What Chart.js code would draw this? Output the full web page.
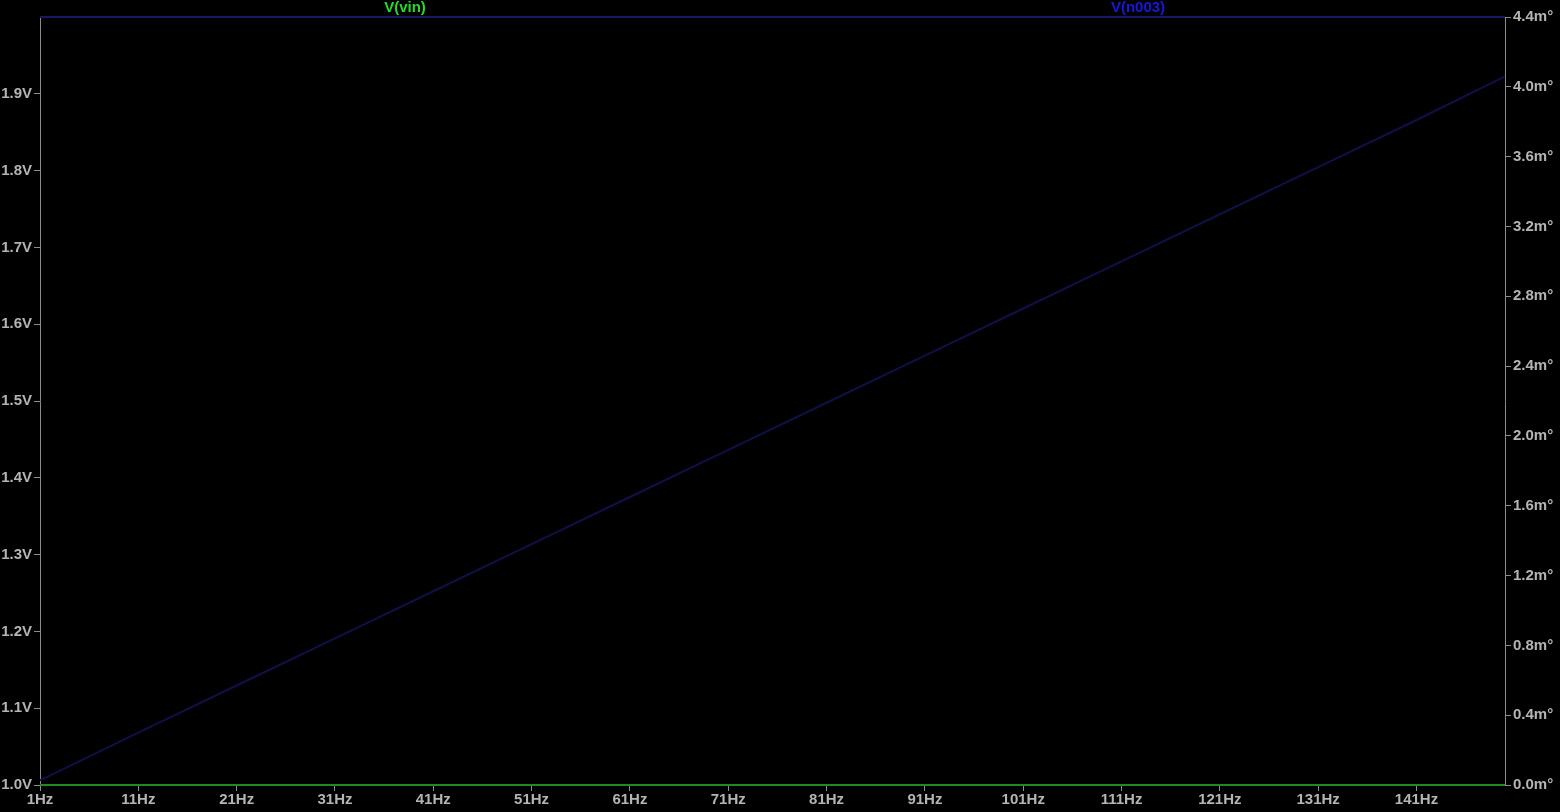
<!DOCTYPE html>
<html>
<head>
<meta charset="utf-8">
<script src="https://cdn.jsdelivr.net/npm/chart.js@4"></script>
<style>
  html, body { margin: 0; padding: 0; background: #000; }
  #wrap { width: 1560px; height: 812px; }
</style>
</head>
<body>
<div id="wrap"><canvas id="plot"></canvas></div>
<script>
// AC sweep values
const freqs = [1, 11, 21, 31, 41, 51, 61, 71, 81, 91, 101, 111, 121, 131, 141, 150];
const vinMag = [1.0, 1.0, 1.0, 1.0, 1.0, 1.0, 1.0, 1.0, 1.0, 1.0, 1.0, 1.0, 1.0, 1.0, 1.0, 1.0];
const vinPhase = [0, 0, 0, 0, 0, 0, 0, 0, 0, 0, 0, 0, 0, 0, 0, 0];
const n003Mag = [2.0, 2.0, 2.0, 2.0, 2.0, 2.0, 2.0, 2.0, 2.0, 2.0, 2.0, 2.0, 2.0, 2.0, 2.0, 2.0];
const n003Phase = [0.027, 0.30, 0.57, 0.84, 1.11, 1.38, 1.65, 1.92, 2.19, 2.46, 2.73, 3.00, 3.27, 3.54, 3.81, 4.06];

// tick labels
const xTicks = [1, 11, 21, 31, 41, 51, 61, 71, 81, 91, 101, 111, 121, 131, 141];
const leftTicks = [1.0, 1.1, 1.2, 1.3, 1.4, 1.5, 1.6, 1.7, 1.8, 1.9];
const rightTicks = [0, 0.4, 0.8, 1.2, 1.6, 2.0, 2.4, 2.8, 3.2, 3.6, 4.0, 4.4];

const traceNames = ['V(vin)', 'V(n003)'];

const axisGrey = '#8c8c8c';
const labelGrey = '#b4b4b4';
const tickFont = { family: 'Liberation Sans, Arial, sans-serif', size: 15, weight: 'bold' };

function pts(ys) {
  return freqs.map((f, i) => ({ x: f, y: ys[i] }));
}

// draws the trace names above the plot, LTspice style
const traceLabels = {
  id: 'traceLabels',
  afterDraw(chart) {
    const ctx = chart.ctx;
    ctx.save();
    ctx.font = 'bold 15px Liberation Sans, Arial, sans-serif';
    ctx.textAlign = 'center';
    ctx.textBaseline = 'middle';
    ctx.fillStyle = '#22dd22';
    ctx.fillText(traceNames[0], 405, 8);
    ctx.fillStyle = '#1818dd';
    ctx.fillText(traceNames[1], 1138, 8);
    ctx.restore();
  }
};

const bg = {
  id: 'bg',
  beforeDraw(chart) {
    const ctx = chart.ctx;
    ctx.save();
    ctx.fillStyle = '#000';
    ctx.fillRect(0, 0, chart.width, chart.height);
    ctx.restore();
  }
};

new Chart(document.getElementById('plot'), {
  type: 'line',
  data: {
    datasets: [
      { data: pts(n003Phase), yAxisID: 'y1', borderColor: '#101048', borderWidth: 2 },
      { data: pts(n003Mag), yAxisID: 'y', borderColor: '#181866', borderWidth: 2 },
      { data: pts(vinPhase), yAxisID: 'y1', borderColor: '#1f8a1f', borderWidth: 2 },
      { data: pts(vinMag), yAxisID: 'y', borderColor: '#1f8a1f', borderWidth: 2 }
    ]
  },
  options: {
    responsive: true,
    maintainAspectRatio: false,
    animation: false,
    clip: false,
    layout: { padding: { top: 17, left: 0, right: 0, bottom: 0 } },
    elements: { point: { radius: 0 }, line: { tension: 0 } },
    plugins: { legend: { display: false }, tooltip: { enabled: false } },
    scales: {
      x: {
        type: 'linear', min: 1, max: 150,
        afterBuildTicks: s => { s.ticks = xTicks.map(v => ({ value: v })); },
        afterFit: s => { s.height = 27; },
        border: { color: axisGrey, width: 1 },
        grid: { drawOnChartArea: false, color: axisGrey, tickLength: 6 },
        ticks: { color: labelGrey, font: tickFont, padding: 0, maxRotation: 0, autoSkip: false,
                 callback: v => v + 'Hz' }
      },
      y: {
        position: 'left', min: 1.0, max: 2.0,
        afterBuildTicks: s => { s.ticks = leftTicks.map(v => ({ value: v })); },
        afterFit: s => { s.width = 40; },
        border: { color: axisGrey, width: 1 },
        grid: { drawOnChartArea: false, color: axisGrey, tickLength: 6 },
        ticks: { color: labelGrey, font: tickFont, padding: 2, callback: v => v.toFixed(1) + 'V' }
      },
      y1: {
        position: 'right', min: 0, max: 4.4,
        afterBuildTicks: s => { s.ticks = rightTicks.map(v => ({ value: v })); },
        afterFit: s => { s.width = 55; },
        border: { color: axisGrey, width: 1 },
        grid: { drawOnChartArea: false, color: axisGrey, tickLength: 6 },
        ticks: { color: labelGrey, font: tickFont, padding: 2, callback: v => v.toFixed(1) + 'm°' }
      }
    }
  },
  plugins: [bg, traceLabels]
});
</script>
</body>
</html>
